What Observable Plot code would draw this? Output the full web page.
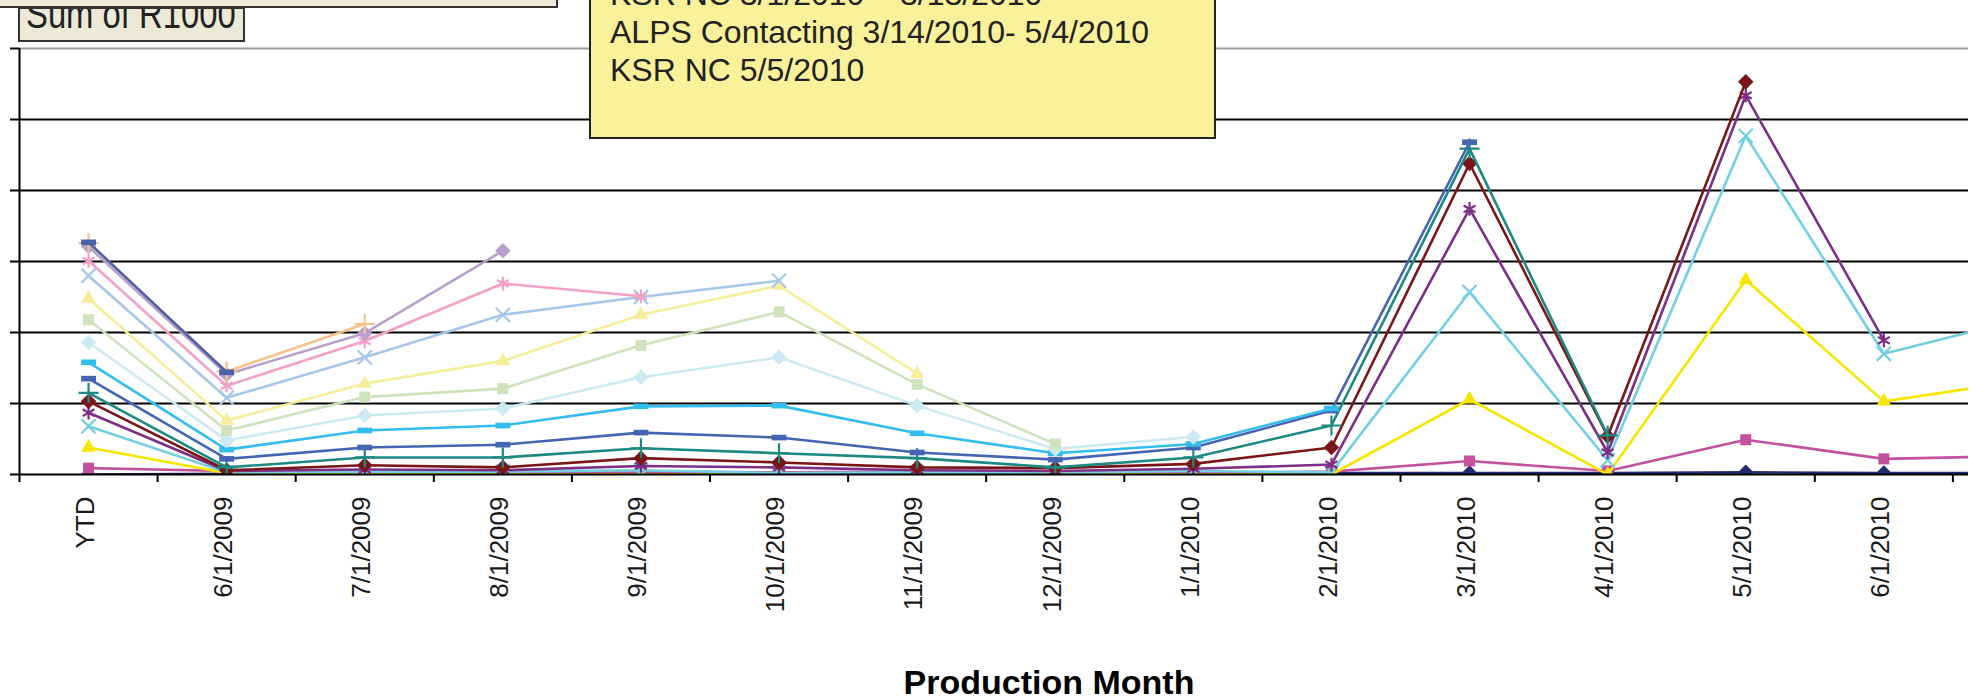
<!DOCTYPE html>
<html><head><meta charset="utf-8">
<script src="https://cdn.jsdelivr.net/npm/d3@7"></script>
<script src="https://cdn.jsdelivr.net/npm/@observablehq/plot@0.6"></script>
<style>
html,body{margin:0;padding:0;background:#fff;overflow:hidden;}
#wrap{position:relative;width:1982px;height:699px;overflow:hidden;font-family:"Liberation Sans",Arial,sans-serif;}
#chart{position:absolute;left:0;top:0;}
.topbar{position:absolute;left:-4px;top:-24px;width:558px;height:28px;background:#ECE9D8;border:2px solid #333;}
.sumbox{position:absolute;left:18px;top:7px;width:223px;height:31px;background:#ECE9D8;border:2px solid #333;overflow:hidden;}
.sumbox span{position:absolute;left:6px;top:-15px;font-size:40px;line-height:1;color:#222;white-space:nowrap;transform:scaleX(0.82);transform-origin:0 0;}
.note{position:absolute;left:589px;top:-10px;width:623px;height:145px;background:#F9F29A;border:2px solid #222;overflow:hidden;}
.note div{position:absolute;left:19px;font-size:32px;line-height:38px;color:#222;white-space:nowrap;}
</style></head>
<body>
<div id="wrap">
  <div id="chart"></div>
  <div class="topbar"></div>
  <div class="sumbox"><span>Sum of R1000</span></div>
  <div class="note">
    <div style="top:-17px">KSR NC 3/1/2010 – 3/13/2010</div>
    <div style="top:21px">ALPS Contacting 3/14/2010- 5/4/2010</div>
    <div style="top:59px">KSR NC 5/5/2010</div>
  </div>
</div>
<script>
const months = ["YTD","6/1/2009","7/1/2009","8/1/2009","9/1/2009","10/1/2009","11/1/2009","12/1/2009","1/1/2010","2/1/2010","3/1/2010","4/1/2010","5/1/2010","6/1/2010","7/1/2010"];
const xTitle = "Production Month";

const sNavy      = [0, 0.01, 0.01, 0.01, 0.01, 0.01, 0.01, 0.01, 0.01, 0.02, 0.02, 0.02, 0.03, 0.02, 0.02];
const sMagenta   = [0.09, 0.05, 0.03, 0.03, 0.04, 0.03, 0.04, 0.02, 0.02, 0.04, 0.19, 0.05, 0.49, 0.22, 0.26];
const sYellow    = [0.38, 0.02, 0, 0, 0, 0, 0, 0, 0, 0, 1.06, 0, 2.74, 1.03, 1.32];
const sCyan      = [0.68, 0.03, 0.04, 0.04, 0.06, 0.02, 0.03, 0.03, 0.05, 0.03, 2.57, 0.2, 4.77, 1.7, 2.19];
const sPurple    = [0.87, 0.05, 0.07, 0.06, 0.12, 0.1, 0.06, 0.05, 0.08, 0.14, 3.74, 0.31, 5.34, 1.89, null];
const sDarkRed   = [1.03, 0.06, 0.13, 0.1, 0.23, 0.17, 0.1, 0.09, 0.15, 0.38, 4.38, 0.54, 5.53, null, null];
const sTeal      = [1.15, 0.1, 0.24, 0.24, 0.37, 0.3, 0.23, 0.1, 0.24, 0.69, 4.59, 0.55, null, null, null];
const sBlue      = [1.35, 0.22, 0.38, 0.42, 0.59, 0.52, 0.31, 0.21, 0.38, 0.9, 4.68, null, null, null, null];
const sSky       = [1.58, 0.35, 0.62, 0.69, 0.96, 0.97, 0.58, 0.3, 0.43, 0.93, null, null, null, null, null];
const sLtCyan    = [1.86, 0.48, 0.83, 0.93, 1.37, 1.65, 0.97, 0.36, 0.53, null, null, null, null, null, null];
const sLtGreen   = [2.18, 0.62, 1.09, 1.21, 1.82, 2.29, 1.27, 0.43, null, null, null, null, null, null, null];
const sLtYellow  = [2.48, 0.76, 1.28, 1.6, 2.25, 2.66, 1.42, null, null, null, null, null, null, null, null];
const sLtBlue    = [2.8, 1.08, 1.65, 2.25, 2.5, 2.73, null, null, null, null, null, null, null, null, null];
const sPink      = [3.01, 1.25, 1.88, 2.69, 2.51, null, null, null, null, null, null, null, null, null, null];
const sLtPurple  = [3.21, 1.41, 1.99, 3.15, null, null, null, null, null, null, null, null, null, null, null];
const sOrange    = [3.26, 1.45, 2.12, null, null, null, null, null, null, null, null, null, null, null, null];
const sDarkBlue  = [3.27, 1.44, null, null, null, null, null, null, null, null, null, null, null, null, null];

const dash = {draw(ctx, size){ const w = Math.sqrt(size)*0.6, h = w*0.38; ctx.moveTo(-w,-h); ctx.lineTo(w,-h); ctx.lineTo(w,h); ctx.lineTo(-w,h); ctx.closePath(); }};

const series = [
  {values: sNavy,     color:"#222A6E", symbol:"diamond2", filled:true},
  {values: sMagenta,  color:"#C2519E", symbol:"square2",  filled:true},
  {values: sYellow,   color:"#F7E600", symbol:"triangle2",filled:true},
  {values: sCyan,     color:"#72D0E2", symbol:"times",    filled:false},
  {values: sPurple,   color:"#7C2F85", symbol:"asterisk", filled:false},
  {values: sDarkRed,  color:"#7A1518", symbol:"diamond2", filled:true},
  {values: sTeal,     color:"#1C8A82", symbol:"plus",     filled:false},
  {values: sBlue,     color:"#4565B2", symbol:dash,       filled:true},
  {values: sSky,      color:"#33BDEE", symbol:dash,       filled:true},
  {values: sLtCyan,   color:"#CDEAF3", symbol:"diamond2", filled:true},
  {values: sLtGreen,  color:"#CFE3BE", symbol:"square2",  filled:true},
  {values: sLtYellow, color:"#F6EE9B", symbol:"triangle2",filled:true},
  {values: sLtBlue,   color:"#A7C7EA", symbol:"times",    filled:false},
  {values: sPink,     color:"#F3A1C6", symbol:"asterisk", filled:false},
  {values: sLtPurple, color:"#B7A0CD", symbol:"diamond2", filled:true},
  {values: sOrange,   color:"#F8C28C", symbol:"plus",     filled:false},
  {values: sDarkBlue, color:"#4B61A8", symbol:dash,       filled:true}
];

const seriesMarks = series.flatMap(s => {
  const rows = s.values.map((v, i) => ({i, v})).filter(d => d.v !== null);
  const dotOpts = {x:"i", y:"v", symbol: s.symbol, r: s.filled ? 7 : 6.5, clip: true};
  if (s.filled) { dotOpts.fill = s.color; dotOpts.stroke = "none"; }
  else { dotOpts.stroke = s.color; dotOpts.strokeWidth = 2.2; dotOpts.fill = "none"; }
  return [
    Plot.line(rows, {x:"i", y:"v", stroke: s.color, strokeWidth: 2.6, clip: true}),
    Plot.dot(rows, dotOpts)
  ];
});

const step = 138.1, x0 = 19;
const chart = Plot.plot({
  width: 1982, height: 699,
  marginLeft: 19, marginRight: 14, marginTop: 48, marginBottom: 225,
  style: {fontFamily: "Liberation Sans, Arial, sans-serif", background: "transparent", color: "#000"},
  x: {type: "linear", domain: [-0.5, months.length - 0.5], range: [x0, x0 + months.length*step]},
  y: {domain: [0, 6], range: [474, 48]},
  marks: [
    Plot.ruleY([1,2,3,4,5], {stroke: "#000", strokeWidth: 2}),
    Plot.ruleY([6], {stroke: "#9a9a9a", strokeWidth: 2}),
    ...seriesMarks,
    Plot.ruleY([0], {stroke: "#000", strokeWidth: 2}),
    Plot.ruleX([-0.5], {y1: 0, y2: 6, stroke: "#000", strokeWidth: 2}),
    Plot.axisY({ticks: [0,1,2,3,4,5,6], tickSize: 9, tickFormat: () => "", anchor: "left", label: null, stroke: "#000", strokeWidth: 2}),
    Plot.axisX({ticks: d3.range(months.length).map(i => i - 0.5), tickSize: 8, tickFormat: () => "", label: null, stroke: "#000", strokeWidth: 2}),
    Plot.axisX({ticks: d3.range(months.length - 1), tickFormat: i => months[i], tickRotate: -90, tickSize: 0, tickPadding: 22, fontSize: 26, dx: -3, label: null, fill: "#1a1a1a"}),
    Plot.text([xTitle], {frameAnchor: "bottom", dy: 219, dx: 55, fontSize: 34, fontWeight: "bold", fill: "#000"})
  ]
});
document.getElementById("chart").appendChild(chart);
</script>
</body></html>
